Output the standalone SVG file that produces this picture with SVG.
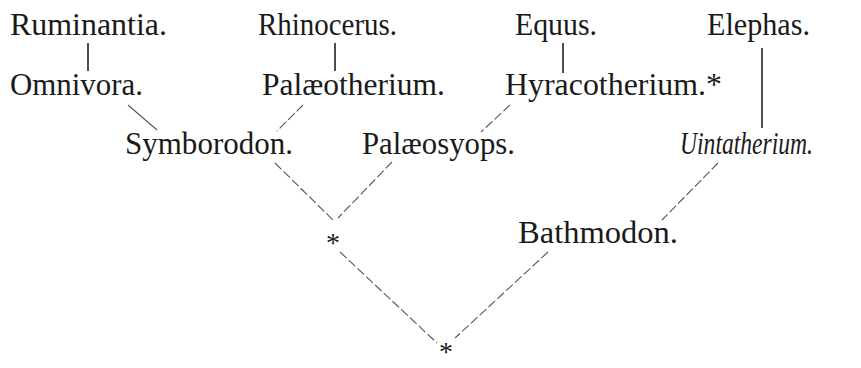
<svg xmlns="http://www.w3.org/2000/svg" width="861" height="368" viewBox="0 0 861 368">
<style>
text{font-family:"Liberation Serif","DejaVu Serif",serif;font-size:31px;fill:#1a1a1a}
.it{font-style:italic;font-size:32px}
.v{stroke:#222;stroke-width:1.6;fill:none}
.d{stroke:#555;stroke-width:1.1;fill:none;stroke-dasharray:9 3}
.s{stroke:#555;stroke-width:1.1;fill:none}
.ast{font-size:28px}
</style>
<rect width="861" height="368" fill="#fff"/>
<g id="connectors">
<line class="v" x1="88" y1="43" x2="88" y2="71"/>
<line class="v" x1="335" y1="43" x2="335" y2="71"/>
<line class="v" x1="563" y1="43" x2="563" y2="73"/>
<line class="v" x1="762" y1="48" x2="762" y2="128"/>
<line class="s" x1="128" y1="105" x2="157" y2="130"/>
<line class="d" x1="303" y1="105" x2="277" y2="131"/>
<line class="d" x1="510" y1="105" x2="481" y2="132"/>
<line class="d" x1="275" y1="163" x2="333" y2="220"/>
<line class="d" x1="392" y1="162" x2="338" y2="218"/>
<line class="d" x1="718" y1="163" x2="662" y2="220"/>
<line class="d" x1="340" y1="252" x2="437" y2="343"/>
<line class="d" x1="548" y1="252" x2="455" y2="338"/>
</g>
<g id="ruminantia"><text x="10" y="35" textLength="157" lengthAdjust="spacingAndGlyphs">Ruminantia.</text></g>
<g id="rhinocerus"><text x="258" y="35" textLength="139" lengthAdjust="spacingAndGlyphs">Rhinocerus.</text></g>
<g id="equus"><text x="515" y="35" textLength="82" lengthAdjust="spacingAndGlyphs">Equus.</text></g>
<g id="elephas"><text x="707" y="35" textLength="103" lengthAdjust="spacingAndGlyphs">Elephas.</text></g>
<g id="omnivora"><text x="10" y="95" textLength="133" lengthAdjust="spacingAndGlyphs">Omnivora.</text></g>
<g id="palaeotherium"><text x="262" y="95" textLength="183" lengthAdjust="spacingAndGlyphs">Palæotherium.</text></g>
<g id="hyracotherium"><text x="505" y="95" textLength="217" lengthAdjust="spacingAndGlyphs">Hyracotherium.*</text></g>
<g id="symborodon"><text x="125" y="154" textLength="168" lengthAdjust="spacingAndGlyphs">Symborodon.</text></g>
<g id="palaeosyops"><text x="362" y="154" textLength="153" lengthAdjust="spacingAndGlyphs">Palæosyops.</text></g>
<g id="uintatherium"><text class="it" x="680" y="154" textLength="133" lengthAdjust="spacingAndGlyphs">Uintatherium.</text></g>
<g id="star1"><text class="ast" x="333" y="252" text-anchor="middle">*</text></g>
<g id="bathmodon"><text x="518" y="243" textLength="160" lengthAdjust="spacingAndGlyphs">Bathmodon.</text></g>
<g id="star2"><text class="ast" x="446" y="361" text-anchor="middle">*</text></g>
</svg>
